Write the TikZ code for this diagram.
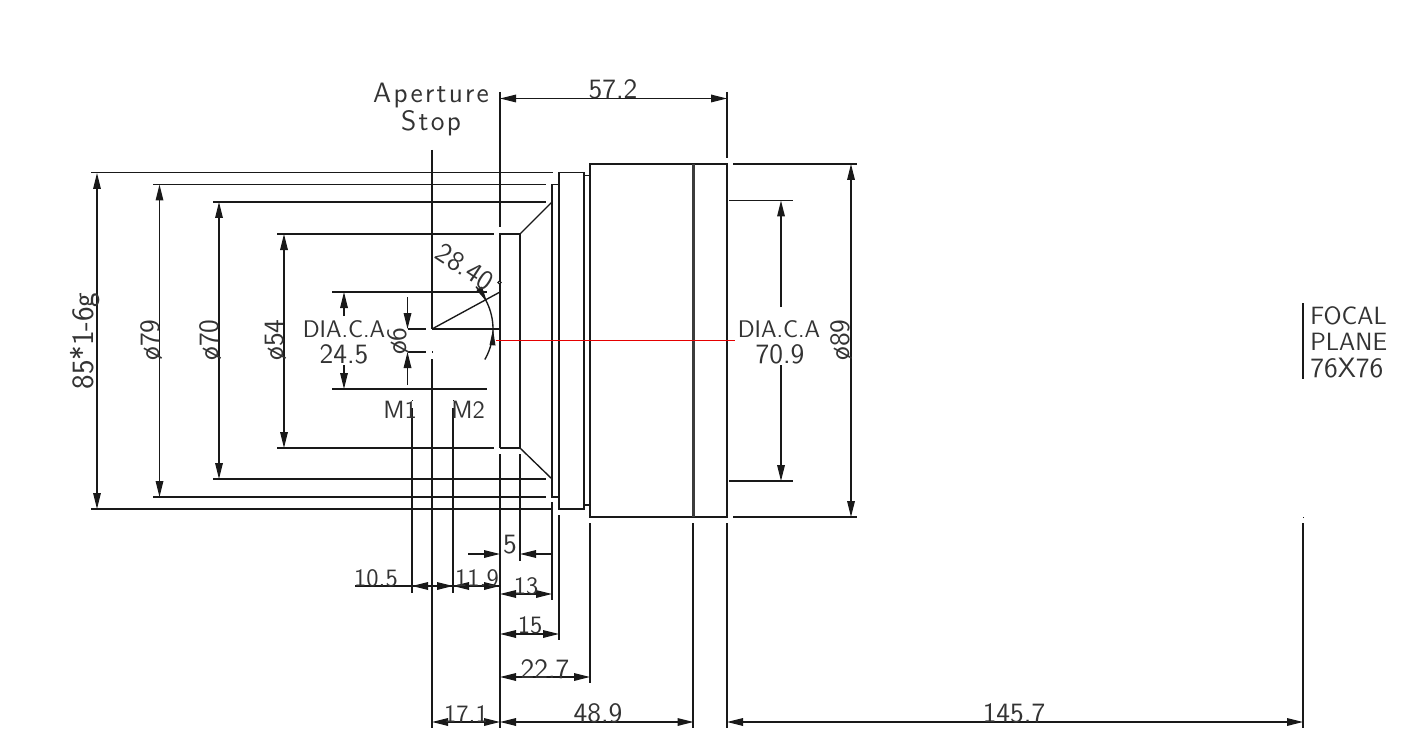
\documentclass[tikz,border=0pt]{standalone}
\usepackage{fontspec}
\usetikzlibrary{arrows.meta}
\newfontface\wideface{Latin Modern Sans}[LetterSpace=8]
\definecolor{ink}{gray}{0.1}
\definecolor{txtc}{gray}{0.2}
\tikzset{
  ln/.style={line width=0.68pt,draw=ink},
  thick ln/.style={line width=1.5pt,draw=ink!85},
  red ln/.style={line width=0.62pt,draw=red!90!black},
  tip/.style={-{Triangle[length=8pt,width=3.8pt]}},
  dimn/.style={ln,{Triangle[length=8pt,width=3.8pt]}-{Triangle[length=8pt,width=3.8pt]}},
  lbl/.style={inner sep=0pt,text=txtc,font=\sffamily\fontsize{14}{16}\selectfont},
  slbl/.style={inner sep=0pt,text=txtc,font=\sffamily\fontsize{12.5}{14}\selectfont},
  dlbl/.style={inner sep=0pt,text=txtc,font=\sffamily\fontsize{12}{14}\selectfont},
  blbl/.style={inner sep=0pt,text=txtc,font=\sffamily\fontsize{15.5}{17}\selectfont},
  wlbl/.style={inner sep=0pt,text=txtc,font=\wideface\fontsize{14}{16}\selectfont},
  dotm/.style={ln,line width=0.5pt}
}
\begin{document}
\begin{tikzpicture}[x=0.5pt,y=-0.5pt]
\useasboundingbox (0,0) rectangle (1401,743);
\fill[white] (0,0) rectangle (1401,743);

% long horizontal extension lines
\foreach \y/\a/\b in {172.5/91/553,184.5/153/546,202/213/546,234/277/494,292/332/487,389/332/487,448/277/494,479/213/546,497/153/546,509/91/553}
  \draw[ln] (\a,\y) -- (\b,\y);

% vertical reference lines
\draw[ln] (500,92) -- (500,227) (500,233) -- (500,448) (500,454) -- (500,728);
\draw[ln] (432,150) -- (432,329) (432,359) -- (432,728);
\draw[dotm] (432,351) -- (432,353);
\draw[ln] (412,408) -- (412,593) (453,408) -- (453,593);
\draw[dotm] (412,400) -- (412,401) (453,400) -- (453,401);

% lens body
\draw[ln] (500,234) -- (520,234) -- (520,448) -- (500,448);
\draw[ln] (520,234) -- (552,202) (520,448) -- (552,479);
\draw[ln] (520,454) -- (520,561);
\draw[ln] (559,184.5) -- (552,184.5) -- (552,497) -- (559,497);
\draw[ln] (552,502) -- (552,600);
\draw[ln] (559,172.5) rectangle (584,509);
\draw[ln] (559,515) -- (559,640);
\draw[ln] (584,175.5) -- (590,175.5) (584,505) -- (590,505);
\draw[ln] (590,164) rectangle (727,517);
\draw[ln] (590,523) -- (590,683);
\draw[thick ln] (693.5,164) -- (693.5,517);
\draw[ln] (693,523) -- (693,728);
\draw[ln] (727,92) -- (727,158) (727,523) -- (727,728);

% right extensions
\draw[ln] (733,164) -- (857,164) (733,517) -- (857,517);
\draw[ln] (729,200.5) -- (793,200.5) (729,481) -- (793,481);
\draw[red ln] (496,340.5) -- (735,340.5);

% vertical dimensions
\draw[dimn] (97,173) -- (97,509);
\draw[dimn] (159.5,184.5) -- (159.5,497);
\draw[dimn] (219,202) -- (219,479);
\draw[dimn] (284,234) -- (284,448);
\draw[dimn] (851,164) -- (851,517);
\draw[ln,tip] (344,316) -- (344,292);
\draw[ln,tip] (344,365) -- (344,389);
\draw[ln,tip] (781,307) -- (781,200.5);
\draw[ln,tip] (781,365) -- (781,481);
\draw[ln,tip] (407.5,297) -- (407.5,329);
\draw[ln,tip] (407.5,385) -- (407.5,352);
\draw[ln] (408,329) -- (426,329) (408,352) -- (426,352);

% angle
\draw[ln] (432,329) -- (501,329);
\draw[ln] (432,329) -- (500,292);
\draw[ln] plot[smooth,domain=-30:44,samples=25] ({432+61*cos(\x)},{329-61*sin(\x)});
\fill[ink] (487,302) -- (476.5,290) -- (482,286.5) -- cycle;
\fill[ink] (493,329.5) -- (489.5,345) -- (495.5,345.5) -- cycle;
\draw[line width=0.5pt,draw=ink,fill=white!60!gray] (499.5,282.5) circle (1.6);

% horizontal dimensions
\draw[dimn] (500,98.5) -- (727,98.5);
\draw[ln,tip] (468,554) -- (500,554);
\draw[ln,tip] (552,554) -- (520,554);
\draw[ln] (355,586) -- (500,586);
\draw[ln,tip] (430,586) -- (412,586);
\draw[ln,tip] (435,586) -- (453,586);
\draw[ln,tip] (471,586) -- (453,586);
\draw[ln,tip] (482,586) -- (500,586);
\draw[dimn] (500,594) -- (552,594);
\draw[dimn] (500,634) -- (559,634);
\draw[dimn] (500,677) -- (590,677);
\draw[dimn] (432,722) -- (500,722);
\draw[dimn] (500,722) -- (693.5,722);
\draw[dimn] (727,722) -- (1303,722);

% focal plane
\draw[ln] (1303,303) -- (1303,379);
\draw[dotm] (1303,517) -- (1303,518);
\draw[ln] (1303,523) -- (1303,728);

% labels
\node[wlbl] (tA) at (431,96) {Aperture};
\node[wlbl] (tB) at (431,123) {Stop};
\node[lbl] (t57) at (613,89) {57.2};
\node[blbl,rotate=90] (t85) at (85,341) {85*1-6g};
\node[lbl,rotate=90] (t79) at (151.5,340) {ø79};
\node[lbl,rotate=90] (t70) at (211,340) {ø70};
\node[lbl,rotate=90] (t54) at (276,340) {ø54};
\node[dlbl] (tD1) at (344,329) {DIA.C.A};
\node[lbl] (t24) at (344,354) {24.5};
\node[lbl,rotate=90] (t6) at (399,341) {ø6};
\node[lbl,rotate=-33] (t28) at (465,267) {28.40};
\node[slbl] (tM1) at (400,410) {M1};
\node[slbl] (tM2) at (468,410) {M2};
\node[dlbl] (tD2) at (779,329) {DIA.C.A};
\node[lbl] (t70b) at (780,354) {70.9};
\node[lbl,rotate=90] (t89) at (842,340) {ø89};
\node[lbl] (t5) at (510,545) {5};
\node[slbl] (t105) at (376,578) {10.5};
\node[slbl] (t119) at (477,578) {11.9};
\node[slbl] (t13) at (526,586) {13};
\node[slbl] (t15) at (530,625) {15};
\node[lbl] (t227) at (545,669) {22.7};
\node[slbl] (t171) at (466,714) {17.1};
\node[lbl] (t489) at (598,713) {48.9};
\node[lbl] (t1457) at (1014,713) {145.7};
\node[slbl,anchor=west] (tF1) at (1310,316) {FOCAL};
\node[slbl,anchor=west] (tF2) at (1310,342) {PLANE};
\node[lbl,anchor=west] (tF3) at (1310,368) {76X76};
\end{tikzpicture}
\end{document}
